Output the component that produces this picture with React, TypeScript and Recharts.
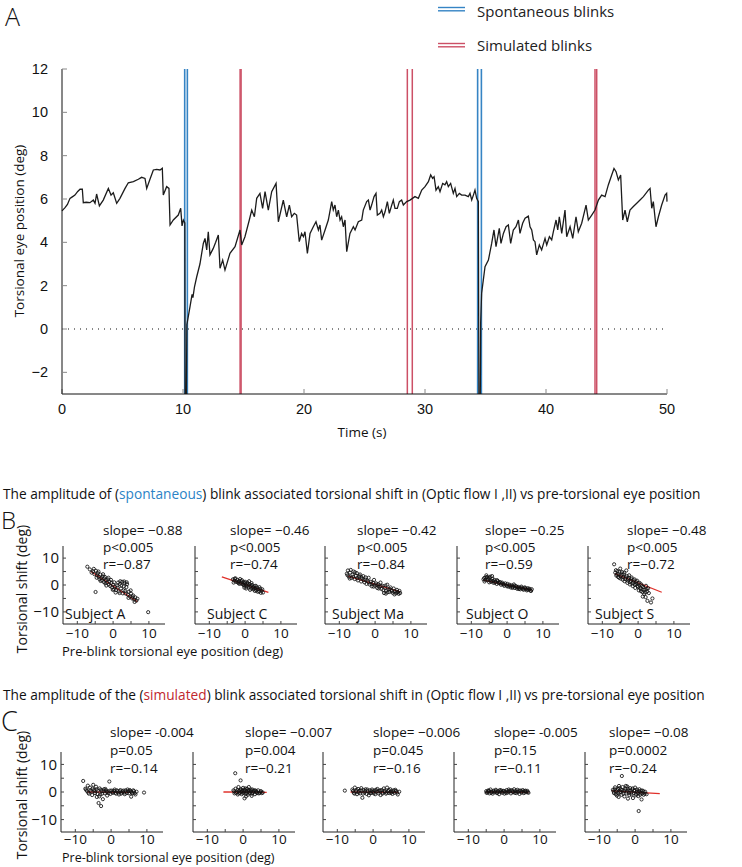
import React from 'react';
import { LineChart, Line, XAxis, YAxis, ReferenceLine, ScatterChart, Scatter } from 'recharts';

// ---------------- Panel A data ----------------
const traceTime = [
  0, 0.25, 0.45, 0.66, 0.85, 1.07, 1.3, 1.49, 1.68, 1.76, 2.0, 2.31, 2.59, 2.73, 2.86, 3.09, 3.41, 3.83, 4.05, 4.24,
  4.52, 4.79, 5.21, 5.48, 5.9, 6.31, 6.58, 6.86, 7.0, 7.27, 7.55, 7.82, 8.1, 8.29, 8.37, 8.65, 8.84, 8.93, 9.2, 9.61,
  9.81, 9.92, 10.03, 10.15, 10.18, 10.27,
  10.32, 10.58, 10.75, 10.82, 10.95, 11.13, 11.4, 11.68, 11.82, 11.96, 12.09, 12.23, 12.5, 12.7, 12.92, 13.06, 13.28,
  13.47, 13.88, 14.3, 14.71, 14.85, 15.12, 15.48, 15.68, 15.9, 16.09, 16.36, 16.58, 16.78, 17.05, 17.33, 17.69, 17.88,
  18.29, 18.57, 18.79, 18.98, 19.2, 19.39, 19.61, 19.8, 19.95, 20.08, 20.28, 20.5, 20.77, 20.99, 21.19, 21.32, 21.46,
  21.74, 22.01, 22.29, 22.42, 22.56, 22.7, 22.84, 22.98, 23.11, 23.25, 23.39, 23.53, 23.8, 24.08, 24.22, 24.49, 24.77,
  24.9, 25.18, 25.32, 25.46, 25.59, 25.79, 25.95, 26.06, 26.28, 26.42, 26.56, 26.7, 26.89, 27.05, 27.25, 27.38, 27.52,
  27.71, 27.88, 28.07, 28.21, 28.49, 28.76, 29.17, 29.45, 29.73, 30.0, 30.28, 30.47, 30.63, 30.75, 30.91, 31.1, 31.24,
  31.46, 31.65, 31.79, 31.93, 32.12, 32.34, 32.48, 32.62, 32.84, 33.03, 33.31, 33.58, 33.72, 33.86, 34.0, 34.13, 34.27,
  34.41, 34.46, 34.56,
  34.6, 34.68, 34.96, 35.24, 35.51, 35.7, 35.87, 36.14, 36.28, 36.48, 36.7, 36.89, 37.08, 37.3, 37.52, 37.72, 37.85,
  38.07, 38.27, 38.54, 38.68, 38.82, 38.96, 39.09, 39.23, 39.45, 39.64, 39.92, 40.06, 40.28, 40.47, 40.61, 40.83, 40.97,
  41.1, 41.3, 41.57, 41.71, 41.99, 42.21, 42.48, 42.67, 42.95, 43.31, 43.5, 43.78, 44.05, 44.33, 44.6, 44.88, 45.15,
  45.43, 45.62, 45.79, 45.98, 46.17, 46.34, 46.53, 46.72, 46.94, 47.22, 47.5, 47.77, 48.05, 48.46, 48.6, 48.74, 48.87,
  49.09, 49.29, 49.56, 49.84, 49.97, 50.0,
];
const tracePosition = [
  5.45, 5.6, 5.75, 6.03, 6.1, 6.18, 6.35, 6.45, 6.45, 5.83, 5.85, 5.83, 5.95, 5.8, 6.23, 5.68, 5.95, 6.49, 6.18, 6.29,
  5.8, 6.03, 6.49, 6.75, 6.8, 6.91, 7.0, 6.95, 6.49, 6.91, 7.34, 7.37, 7.34, 7.42, 6.18, 6.57, 6.49, 4.8, 5.03, 5.26,
  5.57, 4.76, 5.03, 4.9, -4, -4,
  0.2, 1.03, 1.6, 1.45, 1.95, 2.4, 3.0, 3.95, 4.18, 3.65, 4.49, 3.42, 3.72, 4.0, 4.34, 2.8, 3.18,
  2.72, 3.49, 3.8, 4.57, 3.88, 4.26, 5.03, 5.49, 5.18, 6.03, 6.26, 5.57, 6.34, 5.49, 6.34, 6.72, 4.95,
  5.95, 5.18, 5.72, 5.18, 5.34, 5.26, 4.03, 4.41, 4.26, 4.49, 3.49, 4.41, 4.72, 4.95, 4.57, 4.8, 4.1,
  4.57, 5.03, 5.88, 5.49, 5.72, 5.18, 5.49, 5.03, 5.18, 4.72, 5.03, 3.57, 4.41, 4.72, 4.57, 4.95, 5.03,
  5.49, 5.88, 5.95, 5.49, 5.72, 6.11, 6.26, 5.26, 5.34, 5.49, 5.18, 5.41, 5.88, 5.34, 5.72, 5.95, 5.57,
  5.57, 5.88, 5.95, 5.72, 5.88, 5.95, 6.11, 6.03, 6.41, 6.57, 6.8, 7.11, 6.95, 7.03, 6.41, 6.57, 6.34,
  6.72, 6.65, 6.8, 6.57, 6.72, 6.26, 6.49, 6.11, 6.26, 6.18, 6.18, 6.11, 6.26, 5.95, 6.18, 6.41, 6.03,
  5.88, -4, -4,
  0.3, 1.65, 2.88, 3.18, 3.95, 4.57, 3.8, 4.65, 3.95, 4.41, 4.72, 4.8, 3.95, 4.57, 4.72, 5.03, 4.41,
  4.88, 5.11, 5.21, 4.72, 4.57, 4.11, 4.03, 3.42, 3.88, 3.65, 4.18, 3.88, 4.26, 4.11, 4.49, 5.03, 4.57,
  5.18, 4.41, 5.49, 4.26, 4.72, 4.18, 5.18, 4.49, 4.88, 5.72, 5.03, 5.26, 5.49, 5.95, 6.18, 6.11, 6.65,
  7.11, 7.41, 7.26, 6.88, 7.11, 5.03, 5.49, 4.95, 5.49, 5.65, 5.8, 5.95, 6.11, 6.41, 6.49, 5.57, 5.88,
  4.72, 5.18, 5.72, 6.18, 6.26, 5.88,
];
const spontaneousBlinkTimes = [10.14, 10.36, 34.35, 34.66];
const simulatedBlinkTimes = [14.72, 14.8, 28.54, 28.95, 44.05, 44.19];
const timeTicks = [0, 10, 20, 30, 40, 50];
const positionTicks = [-2, 0, 2, 4, 6, 8, 10, 12];

// ---------------- Panels B / C data ----------------
const subjects = ['Subject A', 'Subject C', 'Subject Ma', 'Subject O', 'Subject S'];
const shiftTicks = [-10, -5, 0, 5, 10];

const spontSlope = ['slope= \u22120.88', 'slope= \u22120.46', 'slope= \u22120.42', 'slope= \u22120.25', 'slope= \u22120.48'];
const spontP = ['p<0.005', 'p<0.005', 'p<0.005', 'p<0.005', 'p<0.005'];
const spontR = ['r=\u22120.87', 'r=\u22120.74', 'r=\u22120.84', 'r=\u22120.59', 'r=\u22120.72'];

const simSlope = ['slope= -0.004', 'slope= \u22120.007', 'slope= \u22120.006', 'slope= -0.005', 'slope= \u22120.08'];
const simP = ['p=0.05', 'p=0.004', 'p=0.045', 'p=0.15', 'p=0.0002'];
const simR = ['r=\u22120.14', 'r=\u22120.21', 'r=\u22120.16', 'r=\u22120.11', 'r=\u22120.24'];

const spontA = [[-7.2,6.8],[-5.6,5.1],[-5.2,4.0],[-4.9,-2.6],[-4.8,5.3],[-4.5,3.6],[-4.3,4.4],[-4.0,3.1],[-3.8,2.2],[-3.6,3.9],[-3.3,2.6],[-3.1,1.7],[-2.9,3.2],[-2.6,1.1],[-2.4,2.4],[-2.2,0.6],[-2.0,1.8],[-1.7,0.9],[-1.5,2.1],[-1.2,0.2],[-1.0,1.3],[-0.8,-0.4],[-0.5,0.8],[-0.3,-0.9],[0.0,0.1],[0.2,-1.6],[0.5,-0.6],[0.8,-1.9],[1.1,-0.2],[1.4,0.9],[1.6,-2.4],[1.9,0.4],[2.2,-1.3],[2.5,1.2],[2.7,-3.1],[3.0,-0.5],[3.2,0.7],[3.4,-2.2],[3.7,-0.8],[3.9,0.3],[4.1,-3.6],[4.4,-2.5],[4.7,-4.3],[5.0,-3.2],[5.3,-5.0],[5.6,-3.9],[5.9,-5.4],[6.2,-4.6],[6.5,-5.8],[9.8,-10.1],
  [-6.5,5.8],[-6.0,4.6],[-5.4,6.0],[-4.6,2.7],[-4.1,5.0],[-3.5,1.5],[-2.8,4.0],[-2.3,3.0],[-1.9,-0.2],[-1.3,2.7],[-0.6,1.9],[-0.1,-1.8],[0.3,1.0],[0.7,-2.8],[1.2,-1.0],[1.8,-3.0],[2.3,-0.2],[2.9,-2.0],[3.5,-3.2],[3.8,1.0],[4.3,-4.8],[4.9,-2.0],[5.4,-4.4],[6.0,-6.3],[6.8,-5.1],[2.0,1.4],[3.1,1.3]];
const spontC = [[-3.4,2.1],[-3.0,1.6],[-2.7,2.5],[-2.5,1.2],[-2.2,1.9],[-1.9,0.8],[-1.7,1.5],[-1.4,2.2],[-1.2,0.6],[-1.0,1.3],[-0.7,0.3],[-0.5,1.0],[-0.3,-0.2],[-0.1,0.7],[0.2,0.1],[0.4,-0.6],[0.6,0.9],[0.8,-0.2],[1.0,-0.9],[1.3,0.3],[1.5,-0.5],[1.7,-1.3],[1.9,0.0],[2.2,-0.8],[2.4,-1.6],[2.6,-0.4],[2.9,-1.2],[3.1,-2.0],[3.3,-0.9],[3.6,-1.6],[3.9,-2.4],[4.2,-1.4],[4.6,-2.2],[5.0,-2.8],[1.1,1.4],[-0.2,-1.0],
  [-3.2,0.9],[-2.9,2.3],[-2.0,1.0],[-1.6,0.4],[-0.9,1.8],[-0.4,0.1],[0.0,1.2],[0.3,-1.3],[0.9,0.5],[1.4,-1.8],[1.8,0.7],[2.3,-1.1],[2.7,-2.2],[3.0,-0.3],[3.5,-2.5],[4.0,-0.8],[4.4,-2.9],[4.8,-1.6]];
const spontMa = [[-7.9,4.2],[-7.6,5.4],[-7.3,3.1],[-7.0,4.6],[-6.6,2.6],[-6.3,3.8],[-6.0,5.0],[-5.7,2.2],[-5.4,3.4],[-5.1,4.4],[-4.8,1.7],[-4.5,2.9],[-4.2,3.9],[-3.9,1.3],[-3.6,2.4],[-3.3,3.3],[-3.0,1.0],[-2.7,2.0],[-2.4,0.4],[-2.1,1.6],[-1.8,2.7],[-1.5,0.2],[-1.2,1.2],[-0.9,-0.5],[-0.6,0.8],[-0.3,1.9],[0.0,-0.2],[0.3,0.6],[0.6,-1.1],[0.9,0.3],[1.2,-0.6],[1.5,0.9],[1.8,-1.5],[2.1,-0.3],[2.5,-3.0],[2.8,-1.0],[3.1,-2.1],[3.4,0.1],[3.7,-1.6],[4.0,-2.6],[4.3,-0.9],[4.6,-1.9],[4.9,-2.9],[5.2,-1.3],[5.5,-2.4],[5.8,-3.1],[6.1,-1.8],[6.4,-2.7],[6.8,-2.2],[7.0,-3.0],
  [-7.7,3.6],[-7.1,2.4],[-6.8,5.6],[-6.1,3.1],[-5.6,4.7],[-5.0,2.5],[-4.4,3.4],[-3.8,2.9],[-3.2,1.8],[-2.6,2.8],[-1.9,1.1],[-1.0,0.4],[-0.4,-0.6],[0.5,0.1],[1.0,-1.3],[1.6,-0.4],[2.3,-1.9],[2.9,-0.2],[3.5,-2.7],[4.1,-1.5],[4.7,-2.3],[5.4,-3.5],[6.0,-2.5],[6.6,-3.3],[3.0,-3.2]];
const spontO = [[-6.6,2.1],[-6.3,1.3],[-6.0,2.8],[-5.8,3.6],[-5.5,1.8],[-5.2,2.6],[-5.0,1.0],[-4.7,3.1],[-4.4,1.6],[-4.1,2.3],[-3.8,0.8],[-3.5,1.9],[-3.2,1.2],[-2.9,0.4],[-2.6,1.5],[-2.3,0.7],[-2.0,1.1],[-1.7,0.1],[-1.4,0.9],[-1.1,0.3],[-0.8,-0.3],[-0.5,0.6],[-0.2,-0.1],[0.1,0.4],[0.4,-0.6],[0.7,0.1],[1.0,-0.9],[1.3,-0.2],[1.6,-0.7],[1.9,0.2],[2.2,-1.1],[2.5,-0.4],[2.8,-1.4],[3.1,-0.7],[3.4,-1.0],[3.7,-1.6],[4.0,-0.6],[4.3,-1.3],[4.6,-1.8],[4.9,-0.9],[5.2,-1.5],[5.5,-2.0],[5.8,-1.2],[6.1,-1.7],[6.5,-2.1],[6.9,-1.6],
  [-6.4,2.6],[-6.1,1.9],[-5.6,3.0],[-5.3,2.1],[-4.9,2.7],[-4.5,1.2],[-4.2,3.3],[-3.9,1.5],[-3.4,0.9],[-2.8,1.8],[-2.4,1.0],[-1.6,0.6],[-0.9,0.2],[0.0,-0.5],[0.8,-0.3],[1.5,-1.1],[2.0,-0.3],[2.7,-0.8],[3.3,-1.5],[3.9,-1.0],[4.5,-1.4],[5.1,-1.1],[5.7,-1.7],[6.3,-1.4],[6.7,-2.2]];
const spontS = [[-6.7,7.7],[-6.4,4.6],[-6.1,3.5],[-5.8,5.2],[-5.5,4.1],[-5.3,2.7],[-5.0,6.1],[-4.8,3.3],[-4.5,4.8],[-4.3,2.0],[-4.0,3.9],[-3.8,1.4],[-3.5,2.9],[-3.3,5.4],[-3.0,0.8],[-2.8,2.2],[-2.5,3.6],[-2.3,0.2],[-2.0,1.5],[-1.8,2.8],[-1.5,-0.4],[-1.3,0.9],[-1.0,2.1],[-0.8,-1.1],[-0.5,0.4],[-0.3,1.6],[0.0,-0.7],[0.2,-2.0],[0.4,0.8],[0.7,-1.4],[0.9,0.2],[1.2,-2.6],[1.4,-0.8],[1.7,-3.4],[1.9,-1.7],[2.2,-0.3],[2.5,-2.4],[2.8,-1.2],[3.0,-3.0],[2.6,-5.9],[3.6,-6.5],[4.0,-5.0],
  [-6.2,5.5],[-5.9,3.9],[-5.6,3.0],[-5.2,4.9],[-4.9,2.4],[-4.6,3.9],[-4.2,3.0],[-3.9,4.6],[-3.6,2.2],[-3.2,3.4],[-2.9,1.6],[-2.6,2.7],[-2.2,1.0],[-1.9,2.3],[-1.6,0.6],[-1.2,1.7],[-0.9,0.1],[-0.6,1.2],[-0.2,-0.3],[0.1,0.7],[0.5,-1.0],[0.8,-2.3],[1.1,-0.4],[1.5,-1.8],[2.0,-2.8],[2.4,-1.5],[1.3,-4.3],[2.1,-4.5]];

const simA = [[-7.8,4.0],[-7.2,1.2],[-6.8,0.4],[-6.5,2.3],[-6.2,-0.6],[-5.9,1.6],[-5.6,0.2],[-5.3,-1.1],[-5.0,2.6],[-4.8,0.8],[-4.5,-0.4],[-4.2,1.9],[-4.0,-1.8],[-3.7,0.5],[-3.5,-4.0],[-3.2,1.3],[-3.0,-0.9],[-2.8,-5.1],[-2.6,0.3],[-2.3,-2.6],[-2.0,1.0],[-1.7,-0.5],[-1.4,0.6],[-1.1,-1.3],[-0.8,0.2],[-0.5,3.8],[-0.2,-0.7],[0.2,0.5],[0.6,-0.3],[1.0,0.9],[1.4,-0.6],[1.8,0.3],[2.2,-0.9],[2.6,0.7],[3.0,-0.2],[3.4,0.5],[3.8,-0.8],[4.2,0.2],[4.6,0.9],[5.0,-0.5],[5.4,0.4],[5.8,-0.3],[6.2,0.6],[6.6,-0.4],[7.1,0.1],[5.6,-1.7],[9.2,-0.2],
  [-7.0,0.9],[-6.4,-0.2],[-5.8,0.6],[-5.2,1.2],[-4.6,0.3],[-4.1,0.9],[-3.8,-0.7],[-3.3,-1.6],[-2.9,0.8],[-2.5,-0.6],[-2.1,0.4],[-1.6,1.1],[-1.2,0.0],[-0.7,-0.4],[-0.3,0.5],[0.4,-0.1],[0.8,0.4],[1.2,-0.3],[1.6,0.6],[2.0,-0.2],[2.4,0.3],[2.8,-0.6],[3.2,0.2],[3.6,-0.2],[4.0,0.6],[4.4,-0.4],[4.8,0.3],[5.2,0.7],[5.6,0.1],[6.0,-0.5],[6.4,0.3],[6.8,-0.9]];
const simC = [[-2.7,0.6],[-2.4,-0.5],[-2.2,6.8],[-2.1,1.2],[-1.8,0.1],[-1.5,-0.9],[-1.3,1.8],[-1.1,0.4],[-0.9,-0.3],[-0.7,4.2],[-0.6,1.0],[-0.4,-0.8],[-0.2,0.5],[0.0,1.5],[0.2,-0.2],[0.4,-2.3],[0.5,0.8],[0.7,-0.6],[0.9,0.3],[1.1,1.2],[1.3,-1.0],[1.5,0.1],[1.7,0.7],[1.9,-0.5],[2.1,0.4],[2.4,-1.4],[2.6,0.9],[2.8,-0.2],[3.1,0.5],[3.3,-0.8],[3.6,0.2],[3.9,-0.4],[4.2,0.6],[4.6,-0.3],[5.0,0.3],[5.5,-0.2],[0.8,-1.6],[1.6,1.8],
  [-2.5,0.2],[-2.0,-0.3],[-1.6,0.7],[-1.2,-0.5],[-0.8,0.8],[-0.5,0.2],[-0.1,-0.4],[0.3,0.3],[0.6,1.3],[1.0,-0.4],[1.4,0.6],[1.8,-0.2],[2.2,0.9],[2.5,-0.6],[2.9,0.3],[3.4,0.6],[3.8,0.1],[4.4,-0.5],[4.8,0.1],[5.2,-0.4]];
const simMa = [[-7.9,0.5],[-5.8,0.9],[-5.4,-0.3],[-5.1,1.6],[-4.8,0.2],[-4.5,-0.8],[-4.2,1.1],[-3.9,0.4],[-3.6,-0.5],[-3.3,1.4],[-3.0,-2.1],[-2.7,0.7],[-2.4,-0.2],[-2.1,1.0],[-1.8,-0.7],[-1.5,0.3],[-1.2,-1.2],[-0.9,0.6],[-0.6,-0.4],[-0.3,0.9],[0.0,-0.1],[0.3,0.5],[0.6,-0.8],[0.9,0.2],[1.2,1.1],[1.5,-0.5],[1.8,0.4],[2.1,-1.1],[2.4,0.7],[2.7,-0.2],[3.0,1.3],[3.3,0.1],[3.6,-0.6],[3.9,1.6],[4.2,0.3],[4.5,-0.4],[4.8,1.0],[5.1,0.2],[5.4,-0.7],[5.7,0.6],[6.0,-0.3],[6.4,0.4],[6.9,-0.9],[7.3,0.1],
  [-5.6,0.4],[-5.2,-0.6],[-4.6,0.7],[-4.0,-0.2],[-3.4,0.6],[-2.8,-0.6],[-2.2,0.4],[-1.6,0.9],[-1.0,-0.3],[-0.4,0.3],[0.2,-0.5],[0.8,0.8],[1.4,0.2],[2.0,0.6],[2.6,-0.6],[3.2,0.5],[3.8,-0.2],[4.4,0.7],[5.0,-0.3],[5.6,0.2],[6.2,0.8],[6.7,-0.2]];
const simO = [[-5.0,0.3],[-4.7,-0.2],[-4.4,0.6],[-4.1,-0.5],[-3.8,0.9],[-3.5,0.1],[-3.2,-0.6],[-2.9,0.5],[-2.6,-0.1],[-2.3,0.8],[-2.0,-0.4],[-1.7,0.3],[-1.4,-0.8],[-1.1,0.2],[-0.8,0.6],[-0.5,-0.3],[-0.2,0.4],[0.1,-0.6],[0.4,0.1],[0.7,0.7],[1.0,-0.2],[1.3,0.9],[1.6,0.2],[1.9,-0.5],[2.2,0.6],[2.5,-0.1],[2.8,1.0],[3.1,0.3],[3.4,-0.4],[3.7,0.8],[4.0,0.0],[4.3,-0.7],[4.6,0.5],[4.9,-0.2],[5.2,0.7],[5.5,-0.4],[5.8,0.3],[6.1,-0.1],[6.5,0.4],[6.8,-0.3],
  [-4.9,-0.3],[-4.5,0.2],[-4.2,0.4],[-3.6,-0.3],[-3.0,0.2],[-2.4,0.4],[-1.8,-0.2],[-1.2,0.7],[-0.6,0.1],[0.0,0.3],[0.6,-0.4],[1.2,0.3],[1.8,0.6],[2.4,0.2],[3.0,-0.3],[3.6,0.2],[4.2,0.5],[4.8,0.2],[5.4,0.2],[6.0,0.5],[6.6,0.0]];
const simS = [[-6.2,0.8],[-5.9,-0.4],[-5.6,1.7],[-5.3,0.2],[-5.1,-1.3],[-4.8,1.1],[-4.5,2.2],[-4.3,-0.2],[-4.0,0.9],[-3.7,5.8],[-3.8,-1.0],[-3.5,1.8],[-3.2,0.3],[-3.0,-1.6],[-2.7,1.2],[-2.4,-0.5],[-2.2,2.0],[-1.9,0.5],[-1.6,-1.1],[-1.4,1.4],[-1.1,-0.2],[-0.8,0.9],[-0.6,-2.2],[-0.3,0.4],[0.0,1.6],[0.3,-0.7],[0.6,0.2],[0.9,-1.5],[1.2,1.0],[1.5,-0.4],[1.8,-2.7],[2.1,0.5],[2.4,-1.0],[2.8,0.1],[3.2,-0.8],[1.0,-6.9],[-2.0,-2.4],[-4.6,-1.8],
  [-6.0,0.2],[-5.7,1.0],[-5.4,-0.8],[-5.0,0.6],[-4.7,-0.4],[-4.4,1.4],[-4.1,0.1],[-3.6,0.7],[-3.3,-0.6],[-2.9,0.6],[-2.6,2.2],[-2.3,0.2],[-2.0,1.2],[-1.7,-0.3],[-1.3,0.5],[-1.0,-0.9],[-0.7,1.3],[-0.4,-0.4],[-0.1,0.6],[0.2,-1.2],[0.5,0.9],[0.8,-0.3],[1.1,0.3],[1.4,-1.0],[1.7,0.5],[2.0,-0.5],[2.3,0.2],[2.7,-0.6]];

// regression line end points [x1, y1, x2, y2]
const spontFits = [[-6.2, 5.0, 6.8, -6.2], [-6.5, 3.0, 6.5, -2.7], [-7.5, 3.3, 7.0, -2.6], [-6.6, 1.8, 6.9, -1.8], [-6.5, 4.2, 6.6, -2.7]];
const simFits = [[-6.6, 0.0, 5.5, -0.1], [-5.5, 0.0, 6.6, -0.1], [-6.3, 0.0, 7.0, -0.1], [-5.0, 0.0, 6.8, -0.1], [-6.5, 0.4, 6.9, -0.6]];

const spontSets = [spontA, spontC, spontMa, spontO, spontS];
const simSets = [simA, simC, simMa, simO, simS];

// ---------------- layout ----------------
const FONT = "'Open Sans', 'Noto Sans', sans-serif";
const BLUE = '#3584c4';
const RED = '#cc5066';
const FIT_RED = '#e0302a';

const fmtNum = (v: number) => (v < 0 ? '\u2212' + Math.abs(v) : String(v));
const fmtShift = (v: number) => (Math.abs(v) === 5 ? '' : fmtNum(v));

const traceData = traceTime.map((t, i) => ({ t, v: tracePosition[i] }));

const dotShape = (p: any) => (
  <circle cx={p.cx} cy={p.cy} r={1.6} fill="none" stroke="#111" strokeWidth={0.85} />
);

const rowB = { top: 546, h: 78, lefts: [63, 195, 325, 457, 588], tm: 7 };
const rowC = { top: 752, h: 80, lefts: [61, 193, 323, 454, 585], tm: 5 };

function ScatterPanel(props: { left: number; top: number; h: number; tm: number; pts: number[][]; fit: number[]; showY: boolean }) {
  const { left, top, h, tm, pts, fit, showY } = props;
  const data = pts.map((p) => ({ x: p[0], y: p[1] }));
  const yw = 35;
  return (
    <div style={{ position: 'absolute', left: left - yw, top: top - 5 }}>
      <ScatterChart width={yw + 102 + 8} height={5 + h + 26} margin={{ top: 5, right: 8, bottom: 0, left: 0 }}>
        <XAxis
          type="number"
          dataKey="x"
          domain={[-14, 14.5]}
          ticks={shiftTicks}
          interval={0}
          tickFormatter={fmtShift}
          height={26}
          tickSize={-3}
          tickMargin={tm}
          allowDataOverflow
          axisLine={{ stroke: '#222' }}
          tickLine={{ stroke: '#444' }}
          tick={{ fill: '#111', fontSize: 13.5, fontFamily: FONT }}
        />
        <YAxis
          type="number"
          dataKey="y"
          domain={[-14.5, 14.5]}
          ticks={shiftTicks}
          interval={0}
          tickFormatter={showY ? fmtShift : () => ''}
          width={yw}
          tickSize={-3}
          tickMargin={7}
          allowDataOverflow
          axisLine={{ stroke: '#222' }}
          tickLine={{ stroke: '#444' }}
          tick={{ fill: '#111', fontSize: 15, fontFamily: FONT }}
        />
        <Scatter data={data} shape={dotShape} isAnimationActive={false} />
        <ReferenceLine
          segment={[{ x: fit[0], y: fit[1] }, { x: fit[2], y: fit[3] }]}
          stroke={FIT_RED}
          strokeWidth={1.3}
        />
      </ScatterChart>
    </div>
  );
}

export default function App() {
  const bStatX = [103, 230, 357, 485, 627];
  const cStatX = [110, 245, 373, 494, 609];
  const subjX = [65, 207, 332, 466, 595];
  return (
    <div style={{ position: 'absolute', left: 0, top: 0, width: 742, height: 867, background: '#fff', overflow: 'hidden' }}>
      <div style={{ position: 'absolute', left: 0, top: 0 }}>
        <LineChart width={742} height={440} data={traceData} margin={{ top: 69, right: 75, bottom: 16, left: 22 }}>
          <XAxis
            type="number"
            dataKey="t"
            domain={[0, 50]}
            ticks={timeTicks}
            interval={0}
            height={30}
            tickSize={-5}
            tickMargin={15}
            axisLine={{ stroke: '#111' }}
            tickLine={{ stroke: '#888' }}
            tick={{ fill: '#111', fontSize: 14.5, fontFamily: "'Liberation Sans', Arial, sans-serif" }}
          />
          <YAxis
            type="number"
            domain={[-3, 12]}
            ticks={positionTicks}
            interval={0}
            width={40}
            tickSize={-5}
            tickMargin={19}
            allowDataOverflow
            tickFormatter={fmtNum}
            axisLine={{ stroke: '#111' }}
            tickLine={{ stroke: '#888' }}
            tick={{ fill: '#111', fontSize: 14.5, fontFamily: "'Liberation Sans', Arial, sans-serif" }}
          />
          <ReferenceLine y={0} stroke="#111" strokeWidth={1.2} strokeDasharray="1 5" />
          {spontaneousBlinkTimes.map((t, i) => (
            <ReferenceLine key={'s' + i} x={t} stroke={BLUE} strokeWidth={1.6} />
          ))}
          {simulatedBlinkTimes.map((t, i) => (
            <ReferenceLine key={'m' + i} x={t} stroke={RED} strokeWidth={1.5} />
          ))}
          <Line type="linear" dataKey="v" stroke="#1c1c1c" strokeWidth={1.3} dot={false} isAnimationActive={false} />
        </LineChart>
      </div>

      {spontSets.map((pts, i) => (
        <ScatterPanel key={'b' + i} left={rowB.lefts[i]} top={rowB.top} h={rowB.h} tm={rowB.tm} pts={pts} fit={spontFits[i]} showY={i === 0} />
      ))}
      {simSets.map((pts, i) => (
        <ScatterPanel key={'c' + i} left={rowC.lefts[i]} top={rowC.top} h={rowC.h} tm={rowC.tm} pts={pts} fit={simFits[i]} showY={i === 0} />
      ))}

      <svg width={742} height={867} style={{ position: 'absolute', left: 0, top: 0, pointerEvents: 'none' }} fontFamily={FONT}>
        <text x={5} y={26} fontSize={25} fill="#111" fontWeight={300}>A</text>
        {/* legend */}
        <line x1={438} x2={465} y1={7.5} y2={7.5} stroke={BLUE} strokeWidth={1.4} />
        <line x1={438} x2={465} y1={10.8} y2={10.8} stroke={BLUE} strokeWidth={1.4} />
        <text x={477} y={17} fontSize={15} fill="#222">Spontaneous blinks</text>
        <line x1={438} x2={465} y1={43.5} y2={43.5} stroke={RED} strokeWidth={1.4} />
        <line x1={438} x2={465} y1={46.8} y2={46.8} stroke={RED} strokeWidth={1.4} />
        <text x={477} y={51} fontSize={15} fill="#222">Simulated blinks</text>

        <text transform="translate(24,231) rotate(-90)" textAnchor="middle" fontSize={13.5} fill="#111">Torsional eye position (deg)</text>
        <text x={362} y={437} textAnchor="middle" fontSize={13.5} fill="#111">Time (s)</text>

        <text x={3} y={499} fontSize={13.7} fill="#111">
          The amplitude of (<tspan fill="#2b83c6">spontaneous</tspan>) blink associated torsional shift in (Optic flow I ,II) vs pre-torsional eye position
        </text>
        <text x={1} y={529} fontSize={24} fill="#111" fontWeight={300}>B</text>
        <text transform="translate(27,589) rotate(-90)" textAnchor="middle" fontSize={14} fill="#111">Torsional shift  (deg)</text>
        {bStatX.map((x, i) => (
          <g key={'bs' + i} fontSize={13.5} fill="#111">
            <text x={x} y={535}>{spontSlope[i]}</text>
            <text x={x} y={552}>{spontP[i]}</text>
            <text x={x} y={569}>{spontR[i]}</text>
          </g>
        ))}
        {subjX.map((x, i) => (
          <text key={'sj' + i} x={x} y={619} fontSize={14} fill="#111">{subjects[i]}</text>
        ))}
        <text x={62} y={656} fontSize={13} fill="#111">Pre-blink torsional eye position (deg)</text>

        <text x={3} y={700} fontSize={13.7} fill="#111">
          The amplitude of the (<tspan fill="#c0272d">simulated</tspan>) blink associated torsional shift in (Optic flow I ,II) vs pre-torsional eye position
        </text>
        <text x={1} y={731} fontSize={27} fill="#111" fontWeight={300}>C</text>
        <text transform="translate(27,795) rotate(-90)" textAnchor="middle" fontSize={14} fill="#111">Torsional shift  (deg)</text>
        {cStatX.map((x, i) => (
          <g key={'cs' + i} fontSize={13.5} fill="#111">
            <text x={x} y={737}>{simSlope[i]}</text>
            <text x={x} y={755}>{simP[i]}</text>
            <text x={x} y={772.5}>{simR[i]}</text>
          </g>
        ))}
        <text x={62} y={862} fontSize={12.5} fill="#111">Pre-blink torsional eye position (deg)</text>
      </svg>
    </div>
  );
}
